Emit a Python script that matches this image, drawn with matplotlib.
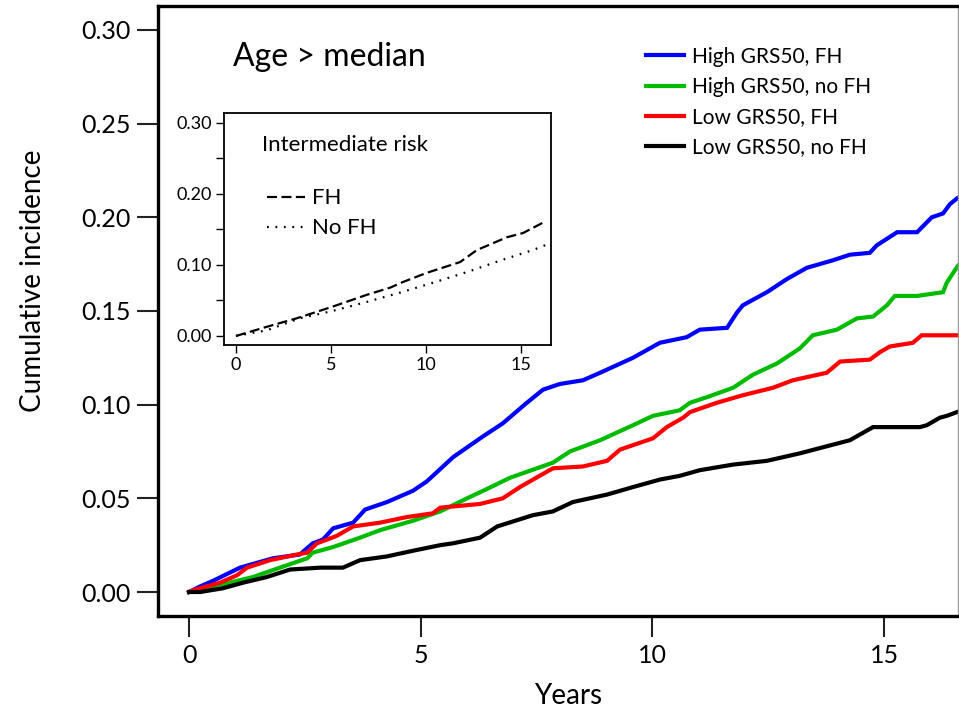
import matplotlib
matplotlib.use("Agg")
import matplotlib.pyplot as plt

plt.rcParams['font.family'] = ['Lato', 'DejaVu Sans']

# main curves: cumulative incidence by follow-up years
high_fh_t = [0, 0.24, 0.52, 1.10, 1.81, 2.39, 2.67, 2.89, 3.11, 3.54, 3.80, 4.27, 4.83, 5.13,
             5.70, 6.34, 6.77, 7.29, 7.64, 8.00, 8.50, 8.87, 9.58, 10.16, 10.74, 11.02, 11.61,
             11.82, 11.95, 12.47, 12.90, 13.33, 13.89, 14.26, 14.69, 14.84, 15.28, 15.71, 16.03,
             16.27, 16.42, 16.57]
high_fh_v = [0, 0.003, 0.006, 0.013, 0.018, 0.020, 0.026, 0.028, 0.034, 0.037, 0.044, 0.048,
             0.054, 0.059, 0.072, 0.083, 0.090, 0.101, 0.108, 0.111, 0.113, 0.117, 0.125, 0.133,
             0.136, 0.140, 0.141, 0.149, 0.153, 0.160, 0.167, 0.173, 0.177, 0.180, 0.181, 0.185,
             0.192, 0.192, 0.200, 0.202, 0.207, 0.210]

high_nofh_t = [0, 0.30, 0.88, 1.38, 1.96, 2.55, 2.67, 3.11, 3.69, 4.12, 4.83, 5.42, 6.00, 6.43,
               6.93, 7.85, 8.22, 8.87, 9.58, 10.01, 10.59, 10.81, 11.18, 11.74, 12.17, 12.69,
               13.18, 13.46, 13.98, 14.41, 14.76, 15.06, 15.23, 15.71, 16.27, 16.35, 16.48, 16.59]
high_nofh_v = [0, 0.002, 0.005, 0.008, 0.013, 0.018, 0.021, 0.024, 0.029, 0.033, 0.038, 0.043,
               0.050, 0.055, 0.061, 0.069, 0.075, 0.081, 0.089, 0.094, 0.097, 0.101, 0.104,
               0.109, 0.116, 0.122, 0.130, 0.137, 0.140, 0.146, 0.147, 0.153, 0.158, 0.158,
               0.160, 0.165, 0.170, 0.174]

low_fh_t = [0, 0.09, 0.67, 1.04, 1.25, 1.75, 2.33, 2.55, 2.76, 2.98, 3.19, 3.54, 4.12, 4.70,
            5.26, 5.42, 6.28, 6.77, 7.14, 7.85, 8.50, 9.02, 9.30, 10.01, 10.31, 10.66, 10.81,
            11.39, 11.95, 12.60, 13.03, 13.76, 14.05, 14.69, 14.91, 15.12, 15.62, 15.81, 16.59]
low_fh_v = [0, 0.001, 0.005, 0.009, 0.013, 0.017, 0.020, 0.021, 0.026, 0.028, 0.030, 0.035,
            0.037, 0.040, 0.042, 0.045, 0.047, 0.050, 0.056, 0.066, 0.067, 0.070, 0.076, 0.082,
            0.088, 0.093, 0.096, 0.101, 0.105, 0.109, 0.113, 0.117, 0.123, 0.124, 0.128, 0.131,
            0.133, 0.137, 0.137]

low_nofh_t = [0, 0.24, 0.73, 1.17, 1.68, 2.18, 2.83, 3.32, 3.69, 4.27, 4.83, 5.42, 5.70, 6.28,
              6.65, 7.42, 7.85, 8.28, 9.02, 9.58, 10.16, 10.59, 11.02, 11.74, 12.47, 13.18,
              14.26, 14.76, 15.77, 15.92, 16.20, 16.35, 16.57]
low_nofh_v = [0, 0.000, 0.002, 0.005, 0.008, 0.012, 0.013, 0.013, 0.017, 0.019, 0.022, 0.025,
              0.026, 0.029, 0.035, 0.041, 0.043, 0.048, 0.052, 0.056, 0.060, 0.062, 0.065,
              0.068, 0.070, 0.074, 0.081, 0.088, 0.088, 0.089, 0.093, 0.094, 0.096]

series_labels = ["High GRS50, FH", "High GRS50, no FH", "Low GRS50, FH", "Low GRS50, no FH"]
series_colors = ["#0000ff", "#00bb00", "#ff0000", "#000000"]

# inset: intermediate risk
inter_fh_t = [0, 1.63, 3.21, 5.05, 6.89, 8.11, 8.79, 10.05, 11.79, 12.68, 14.26, 15.11, 16.26]
inter_fh_v = [0, 0.013, 0.025, 0.041, 0.058, 0.068, 0.076, 0.089, 0.104, 0.121, 0.139, 0.145, 0.161]
inter_nofh_t = [0, 1.63, 3.37, 5.05, 6.89, 8.63, 10.37, 12.16, 13.89, 15.63, 16.58]
inter_nofh_v = [0, 0.008, 0.025, 0.035, 0.048, 0.061, 0.075, 0.090, 0.106, 0.121, 0.131]

main_ticks_y = [0.00, 0.05, 0.10, 0.15, 0.20, 0.25, 0.30]
main_ticks_x = [0, 5, 10, 15]
inset_ticks_y = [0.00, 0.05, 0.10, 0.15, 0.20, 0.25, 0.30]
inset_ylabels = ["0.00", "", "0.10", "", "0.20", "", "0.30"]

fig = plt.figure(figsize=(9.59, 7.10), dpi=100)
ax = fig.add_axes([0.1648, 0.1324, 0.834, 0.8591])

curves = [(high_fh_t, high_fh_v), (high_nofh_t, high_nofh_v),
          (low_fh_t, low_fh_v), (low_nofh_t, low_nofh_v)]
for (t, v), lab, col in zip(curves, series_labels, series_colors):
    ax.plot(t, v, color=col, lw=3, label=lab, solid_joinstyle='miter')

ax.set_xlim(-0.669, 16.59)
ax.set_ylim(-0.0128, 0.3127)
ax.set_yticks(main_ticks_y)
ax.set_yticklabels(["%.2f" % v for v in main_ticks_y])
ax.set_xticks(main_ticks_x)
ax.tick_params(axis='both', direction='out', length=15, width=1.5, labelsize=18, pad=5,
               color='#222222')
for side in ['left', 'bottom', 'top']:
    ax.spines[side].set_linewidth(2.4)
ax.spines['right'].set_linewidth(1)
ax.spines['right'].set_color('#999999')

ax.set_ylabel("Cumulative incidence", fontsize=20)
ax.yaxis.set_label_coords(-0.14, 0.549)
ax.set_xlabel("Years", fontsize=20)
ax.xaxis.set_label_coords(0.5125, -0.11)

ax.text(0.094, 0.916, "Age > median", transform=ax.transAxes, fontsize=23, va='center')

ax.legend(loc='upper left', bbox_to_anchor=(0.6, 0.947), frameon=False, fontsize=15,
          handlelength=1.8, handletextpad=0.4, labelspacing=0.49, borderaxespad=0)

# inset
ins = fig.add_axes([0.2336, 0.5141, 0.341, 0.3268])
ins.plot(inter_fh_t, inter_fh_v, color='black', lw=1.6, dashes=(4.5, 2), label="FH")
ins.plot(inter_nofh_t, inter_nofh_v, color='black', lw=1.6, dashes=(0.8, 3), label="No FH")
ins.set_xlim(-0.63, 16.58)
ins.set_ylim(-0.0127, 0.314)
ins.set_yticks(inset_ticks_y)
ins.set_yticklabels(inset_ylabels)
ins.set_xticks(main_ticks_x)
ins.tick_params(axis='both', direction='out', length=6, width=1, labelsize=13, pad=3)
for s in ins.spines.values():
    s.set_linewidth(1.3)
ins.text(0.115, 0.86, "Intermediate risk", transform=ins.transAxes, fontsize=16, va='center')
ins.legend(loc='upper left', bbox_to_anchor=(0.105, 0.713), frameon=False, fontsize=16,
           handlelength=1.7, handletextpad=0.3, labelspacing=0.45, borderaxespad=0)

fig.savefig("out.png", dpi=100)
